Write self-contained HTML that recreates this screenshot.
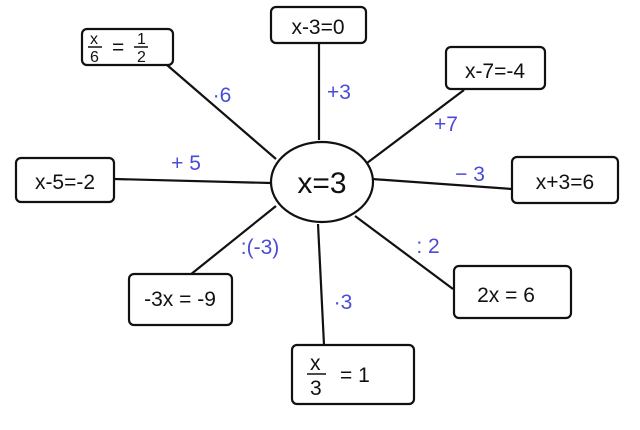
<!DOCTYPE html>
<html><head><style>
html,body{margin:0;padding:0;background:#fff;}
svg{display:block;}
text{font-family:"Liberation Sans",sans-serif;}
.t{font-size:21px;fill:#111;}
.b{font-size:21px;fill:#4b4bd6;}
</style></head><body>
<svg width="640" height="430" viewBox="0 0 640 430">
<g stroke="#111" stroke-width="2.2" fill="none">
<line x1="167" y1="65" x2="276" y2="159"/>
<line x1="319" y1="43" x2="319" y2="140"/>
<line x1="464" y1="90" x2="367" y2="163"/>
<line x1="114" y1="179" x2="271" y2="183"/>
<line x1="372" y1="179" x2="512" y2="189"/>
<line x1="190" y1="275" x2="276" y2="206"/>
<line x1="355" y1="216" x2="453" y2="289"/>
<line x1="318" y1="224" x2="324" y2="345"/>
<ellipse cx="322" cy="182" rx="51" ry="40" fill="#fff"/>
<rect x="271" y="7" width="95" height="36" rx="5" fill="#fff"/>
<rect x="82" y="29" width="91" height="36" rx="5" fill="#fff"/>
<rect x="446" y="47" width="99" height="42" rx="5" fill="#fff"/>
<rect x="16" y="158" width="98" height="44" rx="5" fill="#fff"/>
<rect x="512" y="157" width="106" height="46" rx="5" fill="#fff"/>
<rect x="129" y="274" width="103" height="51" rx="5" fill="#fff"/>
<rect x="454" y="266" width="117" height="52" rx="5" fill="#fff"/>
<rect x="292" y="345" width="122" height="59" rx="5" fill="#fff"/>
</g>
<text class="t" x="322" y="193" text-anchor="middle" style="font-size:30px">x=3</text>
<text class="t" x="318" y="34" text-anchor="middle">x-3=0</text>
<text class="t" x="495" y="78" text-anchor="middle">x-7=-4</text>
<text class="t" x="65" y="189" text-anchor="middle">x-5=-2</text>
<text class="t" x="565" y="189" text-anchor="middle">x+3=6</text>
<text class="t" x="180" y="306" text-anchor="middle">-3x = -9</text>
<text class="t" x="506" y="302" text-anchor="middle">2x = 6</text>
<g class="t" style="font-size:16px">
<text x="90" y="44">x</text><text x="90" y="62">6</text>
<text x="137" y="44">1</text><text x="137" y="62">2</text>
</g>
<line x1="88" y1="47" x2="102" y2="47" stroke="#111" stroke-width="1.5"/>
<line x1="134" y1="47" x2="148" y2="47" stroke="#111" stroke-width="1.5"/>
<text class="t" x="112" y="54">=</text>
<g class="t" style="font-size:21px">
<text x="310" y="370">x</text><text x="310" y="395">3</text>
<text x="340" y="382">= 1</text>
</g>
<line x1="307" y1="374" x2="326" y2="374" stroke="#111" stroke-width="1.5"/>
<text class="b" x="222" y="102" text-anchor="middle">·6</text>
<text class="b" x="339" y="99" text-anchor="middle">+3</text>
<text class="b" x="446" y="131" text-anchor="middle">+7</text>
<text class="b" x="186" y="170" text-anchor="middle">+ 5</text>
<text class="b" x="470" y="181" text-anchor="middle">− 3</text>
<text class="b" x="260" y="254" text-anchor="middle">:(-3)</text>
<text class="b" x="428" y="253" text-anchor="middle">: 2</text>
<text class="b" x="343" y="309" text-anchor="middle">·3</text>
</svg>
</body></html>
